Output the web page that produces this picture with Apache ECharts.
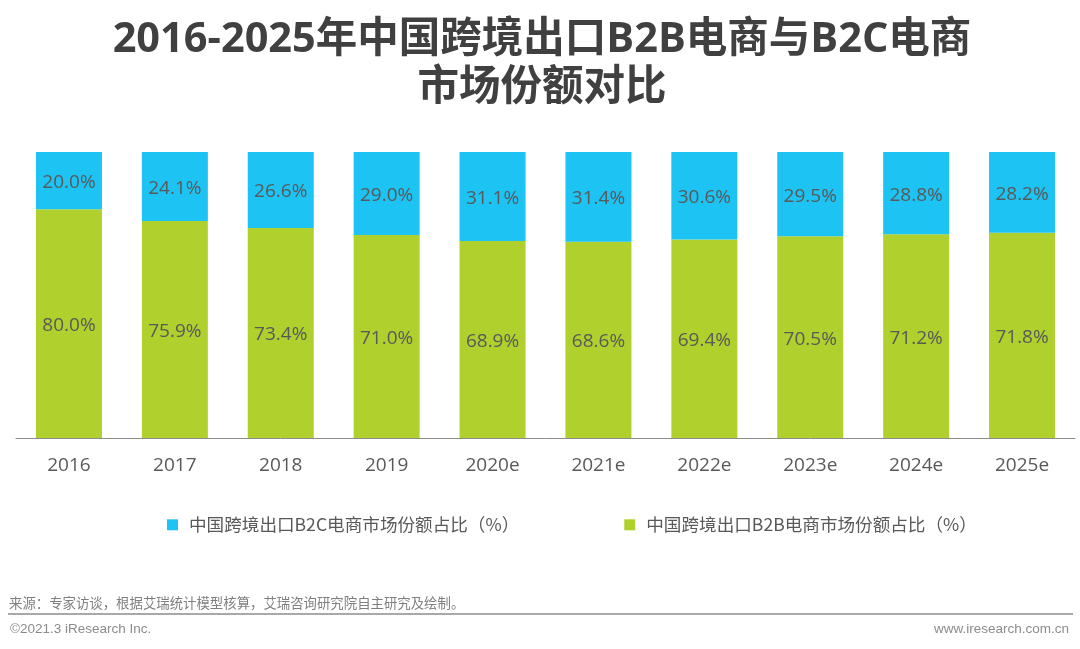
<!DOCTYPE html>
<html lang="zh-CN">
<head>
    <meta charset="UTF-8">
    <title>2016-2025年中国跨境出口B2B电商与B2C电商市场份额对比</title>
    <script src="https://cdn.jsdelivr.net/npm/echarts@6/dist/echarts.min.js"></script>
    <style>
        html, body { margin: 0; padding: 0; background: #fff; }
        #chart { width: 1080px; height: 649px; }
    </style>
</head>
<body>
    <div id="chart"></div>
    <script>
        const years = ['2016', '2017', '2018', '2019', '2020e', '2021e', '2022e', '2023e', '2024e', '2025e']
        const b2bShare = [80.0, 75.9, 73.4, 71.0, 68.9, 68.6, 69.4, 70.5, 71.2, 71.8]
        const b2cShare = [20.0, 24.1, 26.6, 29.0, 31.1, 31.4, 30.6, 29.5, 28.8, 28.2]

        const b2cName = '中国跨境出口B2C电商市场份额占比（%）'
        const b2bName = '中国跨境出口B2B电商市场份额占比（%）'
        const titleText = '2016-2025年中国跨境出口B2B电商与B2C电商\n市场份额对比'
        const sourceText = '来源：专家访谈，根据艾瑞统计模型核算，艾瑞咨询研究院自主研究及绘制。'
        const copyrightText = '©2021.3 iResearch Inc.'
        const siteText = 'www.iresearch.com.cn'

        const FONT = '"Open Sans", "Noto Sans CJK SC", sans-serif'
        const CJK = '"Noto Sans CJK SC", sans-serif'
        const TEXT = '#595959'

        const chart = echarts.init(document.getElementById('chart'), null, { renderer: 'canvas' })

        const barLabel = {
            show: true,
            position: 'inside',
            offset: [0, 2],
            color: TEXT,
            fontFamily: FONT,
            fontSize: 19,
            formatter: (p) => p.value.toFixed(1) + '%'
        }

        chart.setOption({
            animation: false,
            backgroundColor: '#fff',
            title: {
                text: titleText,
                left: 537,
                top: 11,
                textAlign: 'center',
                textStyle: {
                    color: '#404040',
                    fontFamily: FONT,
                    fontSize: 41.5,
                    fontWeight: 'bold',
                    lineHeight: 48
                }
            },
            grid: { left: 16, right: 5, top: 152, bottom: 211, containLabel: false },
            legend: {
                data: [b2cName, b2bName],
                left: 162,
                top: 511,
                icon: 'rect',
                itemWidth: 11,
                itemHeight: 11,
                itemGap: 105,
                textStyle: { color: TEXT, fontFamily: CJK, fontSize: 17.6, padding: [0, 0, 0, 6] }
            },
            xAxis: {
                type: 'category',
                data: years,
                axisTick: { show: false },
                axisLine: { lineStyle: { color: '#8c8c8c', width: 1 } },
                axisLabel: { color: TEXT, fontFamily: FONT, fontSize: 19, margin: 18 }
            },
            yAxis: { type: 'value', min: 0, max: 100, show: false },
            series: [
                {
                    name: b2bName,
                    type: 'bar',
                    stack: 'share',
                    barWidth: 66,
                    data: b2bShare,
                    itemStyle: { color: '#b0d02e' },
                    label: barLabel
                },
                {
                    name: b2cName,
                    type: 'bar',
                    stack: 'share',
                    barWidth: 66,
                    data: b2cShare,
                    itemStyle: { color: '#1cc3f3' },
                    label: barLabel
                }
            ],
            graphic: [
                {
                    type: 'line',
                    shape: { x1: 8, y1: 614, x2: 1073, y2: 614 },
                    style: { stroke: '#8c8c8c', lineWidth: 1.5 }
                },
                {
                    type: 'text',
                    left: 9,
                    top: 596,
                    style: { text: sourceText, fill: '#7f7f7f', font: '13.4px ' + CJK }
                },
                {
                    type: 'text',
                    left: 10,
                    top: 622,
                    style: { text: copyrightText, fill: '#8c8c8c', font: '13.5px "Liberation Sans", sans-serif' }
                },
                {
                    type: 'text',
                    right: 11,
                    top: 622,
                    style: { text: siteText, fill: '#8c8c8c', font: '13.5px "Liberation Sans", sans-serif' }
                }
            ]
        })
    </script>
</body>
</html>
